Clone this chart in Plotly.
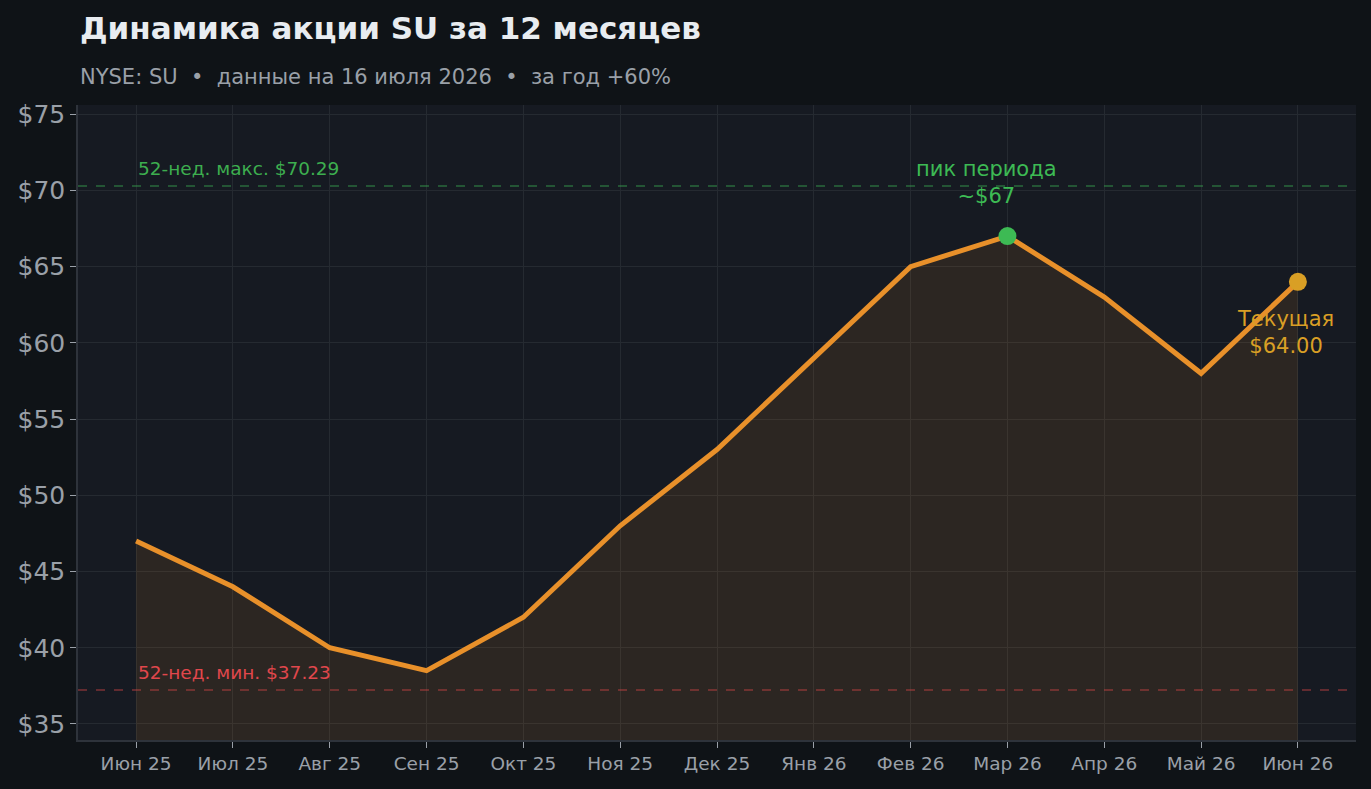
import plotly.graph_objects as go

# Monthly data
months = ["Июн 25", "Июл 25", "Авг 25", "Сен 25", "Окт 25", "Ноя 25", "Дек 25",
          "Янв 26", "Фев 26", "Мар 26", "Апр 26", "Май 26", "Июн 26"]
prices = [47, 44, 40, 38.5, 42, 48, 53, 59, 65, 67, 63, 58, 64]
y_ticks = [35, 40, 45, 50, 55, 60, 65, 70, 75]

high_52w = 70.29
low_52w = 37.23
peak_idx = 9
current_idx = 12

FONT = "DejaVu Sans"
x_idx = list(range(len(months)))

fig = go.Figure()

# price line with filled area
fig.add_trace(go.Scatter(
    x=x_idx, y=prices,
    mode="lines",
    line=dict(color="#e8902a", width=5),
    fill="tozeroy",
    fillcolor="rgba(232,144,42,0.105)",
    hoverinfo="skip",
    showlegend=False
))

# peak marker
fig.add_trace(go.Scatter(
    x=[x_idx[peak_idx]], y=[prices[peak_idx]],
    mode="markers",
    marker=dict(size=18, color="#3dba54"),
    hoverinfo="skip",
    showlegend=False
))

# current marker
fig.add_trace(go.Scatter(
    x=[x_idx[current_idx]], y=[prices[current_idx]],
    mode="markers",
    marker=dict(size=18, color="#d99f25"),
    hoverinfo="skip",
    showlegend=False
))

# 52-week high / low dashed lines
fig.add_shape(type="line", xref="paper", x0=0, x1=1, y0=high_52w, y1=high_52w,
              line=dict(color="rgba(61,170,80,0.55)", width=1.5, dash="dash"))
fig.add_shape(type="line", xref="paper", x0=0, x1=1, y0=low_52w, y1=low_52w,
              line=dict(color="rgba(210,70,70,0.55)", width=1.5, dash="dash"))

fig.add_annotation(x=0, y=high_52w, text=f"52-нед. макс. ${high_52w:.2f}",
                   showarrow=False, xanchor="left", yanchor="bottom", yshift=5,
                   font=dict(family=FONT, size=18.5, color="#3dae4f"))
fig.add_annotation(x=0, y=low_52w, text=f"52-нед. мин. ${low_52w:.2f}",
                   showarrow=False, xanchor="left", yanchor="bottom", yshift=5,
                   font=dict(family=FONT, size=18.5, color="#e0474c"))

fig.add_annotation(x=peak_idx - 0.22, y=prices[peak_idx], text="пик периода<br>~$67",
                   showarrow=False, xanchor="center", yanchor="bottom", yshift=26,
                   font=dict(family=FONT, size=21, color="#3dba54"))
fig.add_annotation(x=current_idx - 0.13, y=prices[current_idx],
                   text=f"Текущая<br>${prices[current_idx]:.2f}",
                   showarrow=False, xanchor="center", yanchor="top", yshift=-23,
                   font=dict(family=FONT, size=21, color="#d99f25"))

# title and subtitle
fig.add_annotation(xref="paper", yref="paper", x=0, y=1.122,
                   text="<b>Динамика акции SU за 12 месяцев</b>",
                   showarrow=False, xanchor="left", yanchor="middle",
                   font=dict(family=FONT, size=31, color="#e8ecf0"))
fig.add_annotation(xref="paper", yref="paper", x=0, y=1.044,
                   text="NYSE: SU  •  данные на 16 июля 2026  •  за год +60%",
                   showarrow=False, xanchor="left", yanchor="middle",
                   font=dict(family=FONT, size=21, color="#9aa0a8"))

fig.update_layout(
    width=1371, height=789,
    margin=dict(l=78, r=15, t=105, b=49),
    paper_bgcolor="#0f1317",
    plot_bgcolor="#161a22",
    font=dict(family=FONT, color="#9aa0a8"),
    xaxis=dict(
        range=[-0.6, 12.6],
        tickvals=x_idx, ticktext=months,
        tickfont=dict(family=FONT, size=18.5, color="#9aa0a8"),
        showgrid=True, gridcolor="#252a31", gridwidth=1,
        zeroline=False,
        showline=True, linecolor="#2e333b", linewidth=1.5,
        ticks="outside", ticklen=6, tickcolor="#9aa0a8",
    ),
    yaxis=dict(
        range=[33.95, 75.6],
        tickvals=y_ticks, ticktext=[f"${v}" for v in y_ticks],
        tickfont=dict(family=FONT, size=25, color="#9aa0a8"),
        showgrid=True, gridcolor="#252a31", gridwidth=1,
        zeroline=False,
        showline=True, linecolor="#2e333b", linewidth=1.5,
        ticks="outside", ticklen=6, tickcolor="#9aa0a8",
    ),
)

# drop the default page margin so the figure sits at the window corner
fig.write_html("out.html", config={"displayModeBar": False},
               post_script="document.body.style.margin='0';")
